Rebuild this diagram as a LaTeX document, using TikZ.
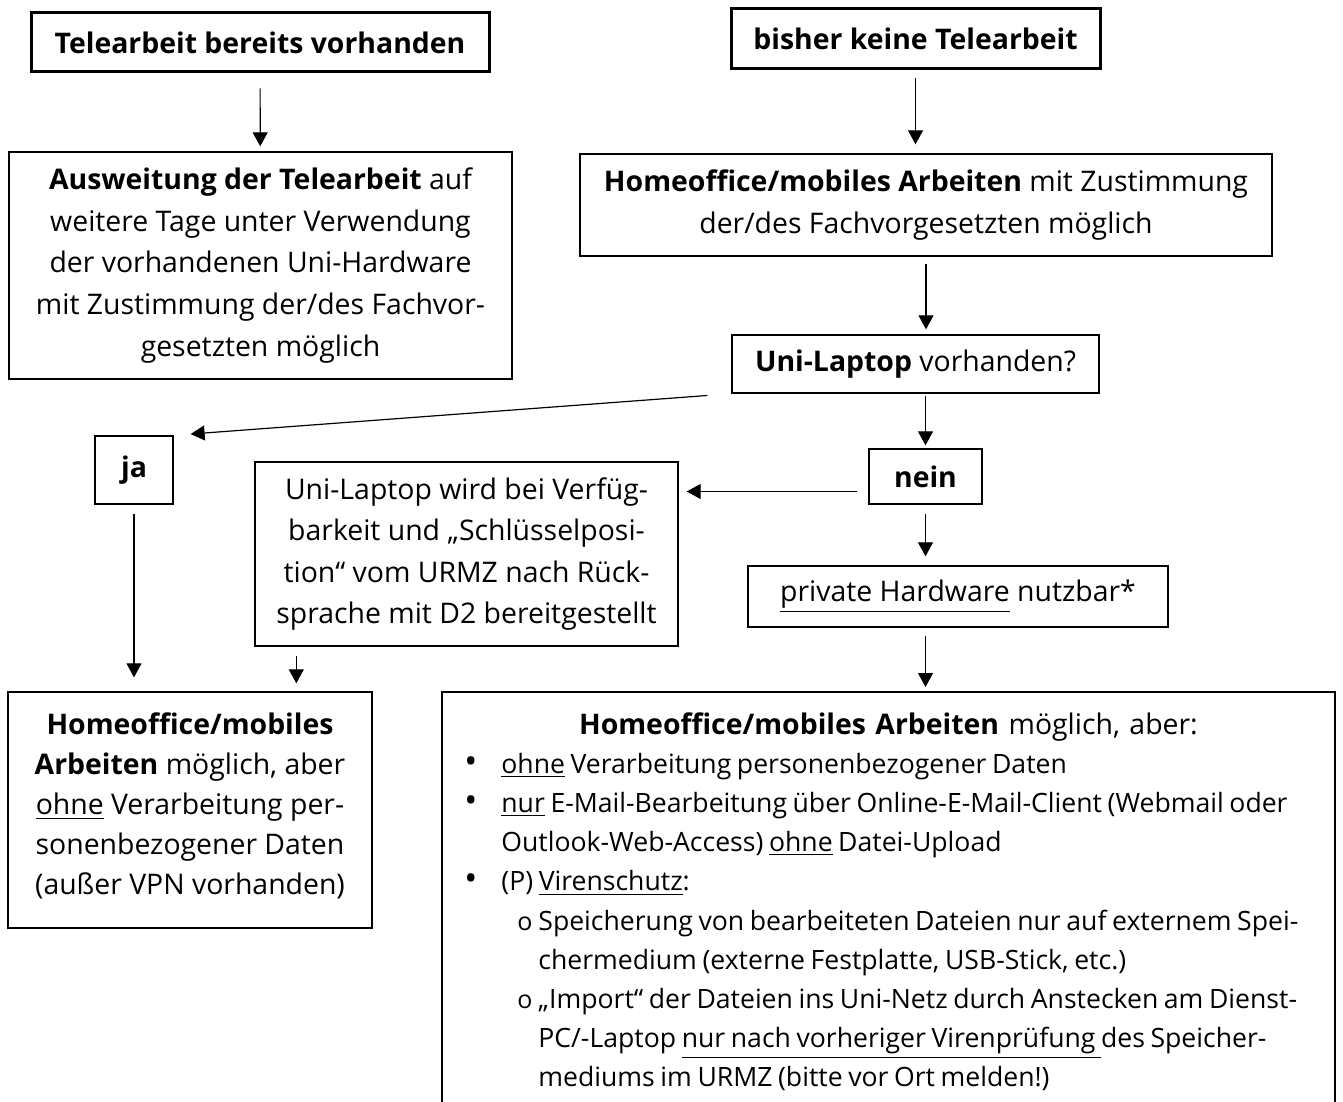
\documentclass[tikz,border=0pt]{standalone}
\usepackage{fontspec}
\setmainfont{Open Sans}
\usepackage{enumitem}
\usetikzlibrary{arrows.meta}

\begin{document}
\begin{tikzpicture}[x=0.5pt,y=-0.5pt,
  font=\fontsize{14.2pt}{20.8pt}\selectfont,
  box/.style={draw,line width=0.7pt,align=center,inner sep=0pt},
  titlebox/.style={box,line width=1.5pt},
  arr/.style={-{Triangle[length=7pt,width=7.5pt]},line width=0.6pt}]
\path[use as bounding box,clip] (0,0) rectangle (1343,1102);
\fill[white] (0,0) rectangle (1343,1102);
% left column
\node[titlebox,minimum width=229pt,minimum height=29.5pt] (tele) at (260,42.5) {\textbf{Telearbeit bereits vorhanden}};
\node[box,minimum width=251.5pt,minimum height=113.5pt] (ausw) at (260.5,265.5) {\textbf{Ausweitung der Telearbeit} auf\\ weitere Tage unter Verwendung\\ der vorhandenen Uni-Hardware\\ mit Zustimmung der/des Fachvor-\\ gesetzten möglich};
\node[box,minimum width=39pt,minimum height=34pt] (ja) at (134,470) {\textbf{ja}};
\node[box,minimum width=211.5pt,minimum height=92pt] (verf) at (466.5,554) {Uni-Laptop wird bei Verfüg-\\ barkeit und „Schlüsselposi-\\ tion“ vom URMZ nach Rück-\\ sprache mit D2 bereitgestellt};
\node[box,minimum width=182pt,minimum height=118pt,font=\fontsize{14.2pt}{20pt}\selectfont] (home2) at (190,810) {\textbf{Homeoffice/mobiles}\\ \textbf{Arbeiten} möglich, aber\\ \underline{ohne} Verarbeitung per-\\ sonenbezogener Daten\\ (außer VPN vorhanden)\\[-14pt]\mbox{}};
% right column
\node[titlebox,minimum width=184.5pt,minimum height=30pt] (keine) at (915.5,39) {\textbf{bisher keine Telearbeit}};
\node[box,minimum width=346pt,minimum height=51pt] (home) at (926,205) {\textbf{Homeoffice/mobiles Arbeiten} mit Zustimmung\\ der/des Fachvorgesetzten möglich};
\node[box,minimum width=183.5pt,minimum height=29pt] (lap) at (915.5,364) {\textbf{Uni-Laptop} vorhanden?};
\node[box,minimum width=56.5pt,minimum height=27.5pt] (nein) at (925.5,476.5) {\textbf{nein}};
\node[box,minimum width=210pt,minimum height=30.5pt] (priv) at (958,596.5) {\underline{private Hardware} nutzbar*};
\node[anchor=north west,text width=440pt,inner xsep=3pt,inner ysep=10pt] (home3) at (442,692) {%
\centering\textbf{Homeoffice/mobiles Arbeiten} möglich, aber:\par
\raggedright\fontsize{13.3pt}{19.6pt}\selectfont\spaceskip=0.21em plus 0.1em minus 0.05em
\begin{itemize}[nosep,leftmargin=26.5pt,labelindent=8pt,labelsep=*,align=left,label=\scalebox{1.3}{\textbullet}]
\item \underline{ohne} Verarbeitung personenbezogener Daten
\item \underline{nur} E-Mail-Bearbeitung über Online-E-Mail-Client (Webmail oder\newline Outlook-Web-Access) \underline{ohne} Datei-Upload
\item (P) \underline{Virenschutz}:
  \begin{itemize}[nosep,leftmargin=18.5pt,labelindent=8pt,labelsep=*,align=left,label={\fontsize{12.5pt}{19.6pt}\selectfont o}]
  \item Speicherung von bearbeiteten Dateien nur auf externem Spei-\newline chermedium (externe Festplatte, USB-Stick, etc.)
  \item „Import“ der Dateien ins Uni-Netz durch Anstecken am Dienst-\newline PC/-Laptop \underline{nur nach vorheriger Virenprüfung\ }des Speicher-\newline mediums im URMZ (bitte vor Ort melden!)
  \end{itemize}
\end{itemize}};
\draw[line width=0.7pt] ([yshift=-20pt]home3.south west) -- (home3.north west) -- (home3.north east) -- ([yshift=-20pt]home3.south east);
% arrows
\draw[arr,shorten <=7.5pt,shorten >=2.5pt] (tele) -- (ausw);
\draw[arr,shorten <=4pt,shorten >=4.5pt] (keine.south) -- (keine.south |- home.north);
\draw[arr,shorten <=3.5pt,shorten >=2.5pt] (home.south) -- (home.south |- lap.north);
\draw[arr,shorten <=12pt,shorten >=8.5pt] (lap.south west) -- (ja.north east);
\draw[arr,shorten <=1pt,shorten >=1.5pt] (nein.north |- lap.south) -- (nein.north);
\draw[arr,shorten <=5.5pt,shorten >=4pt] ([yshift=-7.5pt]nein.west) -- ([yshift=-7.5pt]nein.west -| verf.east);
\draw[arr,shorten <=4.5pt,shorten >=4.5pt] (nein.south) -- (nein.south |- priv.north);
\draw[arr,shorten <=4pt,shorten >=2.5pt] (priv.south -| nein.south) -- (home3.north -| nein.south);
\draw[arr,shorten <=4.5pt,shorten >=7pt] (ja.south) -- (ja.south |- home2.north);
\draw[arr,shorten <=4.5pt,shorten >=4pt] ([xshift=21pt]verf.south west) -- ([xshift=21pt]verf.south west |- home2.north);
\end{tikzpicture}
\end{document}
